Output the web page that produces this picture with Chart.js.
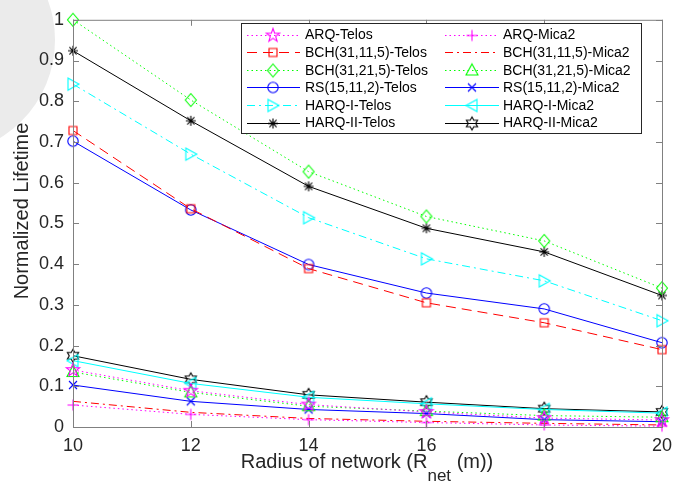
<!DOCTYPE html>
<html>
<head>
<meta charset="utf-8">
<script src="https://cdn.jsdelivr.net/npm/chart.js@4.4.1/dist/chart.umd.min.js"></script>
<style>
  body { margin: 0; background: #fff; }
  canvas { display: block; }
</style>
</head>
<body>
<canvas id="myChart" width="692" height="484"></canvas>
<script>
const radius = [10, 12, 14, 16, 18, 20];

const arqTelos   = [0.140, 0.089, 0.055, 0.037, 0.022, 0.017];
const bch11Telos = [0.728, 0.536, 0.389, 0.305, 0.256, 0.190];
const bch21Telos = [1.000, 0.803, 0.627, 0.517, 0.457, 0.341];
const rsTelos    = [0.702, 0.533, 0.399, 0.329, 0.290, 0.207];
const harq1Telos = [0.842, 0.670, 0.514, 0.413, 0.359, 0.261];
const harq2Telos = [0.924, 0.752, 0.591, 0.488, 0.430, 0.323];

const arqMica2   = [0.054, 0.031, 0.018, 0.011, 0.005, 0.002];
const bch11Mica2 = [0.063, 0.036, 0.021, 0.014, 0.009, 0.005];
const bch21Mica2 = [0.135, 0.085, 0.051, 0.039, 0.028, 0.024];
const rsMica2    = [0.103, 0.063, 0.043, 0.033, 0.018, 0.013];
const harq1Mica2 = [0.163, 0.107, 0.073, 0.057, 0.043, 0.034];
const harq2Mica2 = [0.175, 0.117, 0.079, 0.061, 0.045, 0.037];

const xTicks = [10, 12, 14, 16, 18, 20];
const yTicks = [0, 0.1, 0.2, 0.3, 0.4, 0.5, 0.6, 0.7, 0.8, 0.9, 1];

const DOT = [1.5, 3];
const DASH = [10, 6];
const DASHDOT = [8, 4, 2, 4];

// star outline helper
function starPath(g, n, ro, ri) {
  for (let i = 0; i < n * 2; i++) {
    const r = i % 2 ? ri : ro;
    const a = -Math.PI / 2 + i * Math.PI / n;
    const x = r * Math.cos(a), y = r * Math.sin(a);
    if (i === 0) g.moveTo(x, y); else g.lineTo(x, y);
  }
  g.closePath();
}

// MATLAB-like unfilled markers as small canvases
function marker(type, color) {
  const c = document.createElement('canvas');
  c.width = 18; c.height = 18;
  const g = c.getContext('2d');
  g.strokeStyle = color;
  g.lineWidth = 1.1;
  g.translate(9, 9);
  g.beginPath();
  if (type === 'pent') starPath(g, 5, 7, 2.8);
  else if (type === 'hex') starPath(g, 6, 6.5, 3.7);
  else if (type === 'sq') g.rect(-4, -4, 8, 8);
  else if (type === 'dia') { g.moveTo(0, -6.5); g.lineTo(5.5, 0); g.lineTo(0, 6.5); g.lineTo(-5.5, 0); g.closePath(); }
  else if (type === 'circ') g.arc(0, 0, 5.2, 0, Math.PI * 2);
  else if (type === 'tri') { g.moveTo(0, -6.5); g.lineTo(6, 4.5); g.lineTo(-6, 4.5); g.closePath(); }
  else if (type === 'triR') { g.moveTo(6, 0); g.lineTo(-5, -6); g.lineTo(-5, 6); g.closePath(); }
  else if (type === 'triL') { g.moveTo(-6, 0); g.lineTo(5, -6); g.lineTo(5, 6); g.closePath(); }
  else if (type === 'ast') {
    g.moveTo(-5, 0); g.lineTo(5, 0); g.moveTo(0, -5); g.lineTo(0, 5);
    g.moveTo(-3.6, -3.6); g.lineTo(3.6, 3.6); g.moveTo(-3.6, 3.6); g.lineTo(3.6, -3.6);
  }
  else if (type === 'x') { g.moveTo(-4, -4); g.lineTo(4, 4); g.moveTo(-4, 4); g.lineTo(4, -4); }
  else if (type === 'plus') { g.moveTo(-5.5, 0); g.lineTo(5.5, 0); g.moveTo(0, -5.5); g.lineTo(0, 5.5); }
  g.stroke();
  return c;
}

const series = [
  { label: 'ARQ-Telos',          data: arqTelos,   color: '#ff00ff', dash: DOT,     mk: 'pent', col: 0 },
  { label: 'BCH(31,11,5)-Telos', data: bch11Telos, color: '#ff0000', dash: DASH,    mk: 'sq',   col: 0 },
  { label: 'BCH(31,21,5)-Telos', data: bch21Telos, color: '#00ff00', dash: DOT,     mk: 'dia',  col: 0 },
  { label: 'RS(15,11,2)-Telos',  data: rsTelos,    color: '#0000ff', dash: [],      mk: 'circ', col: 0 },
  { label: 'HARQ-I-Telos',       data: harq1Telos, color: '#00ffff', dash: DASHDOT, mk: 'triR', col: 0 },
  { label: 'HARQ-II-Telos',      data: harq2Telos, color: '#000000', dash: [],      mk: 'ast',  col: 0 },
  { label: 'ARQ-Mica2',          data: arqMica2,   color: '#ff00ff', dash: DOT,     mk: 'plus', col: 1 },
  { label: 'BCH(31,11,5)-Mica2', data: bch11Mica2, color: '#ff0000', dash: DASHDOT, mk: null,   col: 1 },
  { label: 'BCH(31,21,5)-Mica2', data: bch21Mica2, color: '#00ff00', dash: DOT,     mk: 'tri',  col: 1 },
  { label: 'RS(15,11,2)-Mica2',  data: rsMica2,    color: '#0000ff', dash: [],      mk: 'x',    col: 1 },
  { label: 'HARQ-I-Mica2',       data: harq1Mica2, color: '#00ffff', dash: [],      mk: 'triL', col: 1 },
  { label: 'HARQ-II-Mica2',      data: harq2Mica2, color: '#000000', dash: [],      mk: 'hex',  col: 1 }
];
series.forEach(s => { s.img = s.mk ? marker(s.mk, s.color) : null; });

const FONT = '"Liberation Sans", Arial, Helvetica, sans-serif';
const AXIS = '#808080';
const TEXT = '#262626';

// light grey disc behind the top-left corner
const backdrop = {
  id: 'backdrop',
  beforeDraw(chart) {
    const ctx = chart.ctx;
    ctx.save();
    ctx.fillStyle = '#fff';
    ctx.fillRect(0, 0, chart.width, chart.height);
    ctx.fillStyle = '#ebebeb';
    ctx.beginPath();
    ctx.arc(-60, 40, 115, 0, Math.PI * 2);
    ctx.fill();
    ctx.restore();
  }
};

// box, inward ticks, axis titles and the two-column legend
const decor = {
  id: 'decor',
  afterDraw(chart) {
    const ctx = chart.ctx;
    const a = chart.chartArea;
    const xs = chart.scales.x, ys = chart.scales.y;
    ctx.save();
    ctx.strokeStyle = AXIS;
    ctx.lineWidth = 1;
    ctx.setLineDash([]);
    ctx.strokeRect(a.left + 0.5, a.top + 0.5, a.right - a.left, a.bottom - a.top);
    ctx.beginPath();
    xTicks.forEach(v => {
      const px = Math.round(xs.getPixelForValue(v)) + 0.5;
      ctx.moveTo(px, a.bottom); ctx.lineTo(px, a.bottom - 6);
      ctx.moveTo(px, a.top); ctx.lineTo(px, a.top + 6);
    });
    yTicks.forEach(v => {
      const py = Math.round(ys.getPixelForValue(v)) + 0.5;
      ctx.moveTo(a.left, py); ctx.lineTo(a.left + 6, py);
      ctx.moveTo(a.right, py); ctx.lineTo(a.right - 6, py);
    });
    ctx.stroke();

    // y title
    ctx.fillStyle = TEXT;
    ctx.font = '20px ' + FONT;
    ctx.textAlign = 'center';
    ctx.textBaseline = 'middle';
    ctx.save();
    ctx.translate(22, 211);
    ctx.rotate(-Math.PI / 2);
    ctx.fillText('Normalized Lifetime', 0, 0);
    ctx.restore();

    // x title with subscript
    ctx.textAlign = 'left';
    ctx.textBaseline = 'alphabetic';
    const p1 = 'Radius of network (R', sub = 'net', p2 = ' (m))';
    ctx.font = '20px ' + FONT;
    const w1 = ctx.measureText(p1).width, w3 = ctx.measureText(p2).width;
    ctx.font = '17px ' + FONT;
    const w2 = ctx.measureText(sub).width;
    let x = 367 - (w1 + w2 + w3) / 2;
    ctx.font = '20px ' + FONT;
    ctx.fillText(p1, x, 468);
    ctx.font = '17px ' + FONT;
    ctx.fillText(sub, x + w1, 481);
    ctx.font = '20px ' + FONT;
    ctx.fillText(p2, x + w1 + w2, 468);

    // legend
    const L = { x: 241, y: 23, w: 400, h: 110 };
    ctx.fillStyle = '#fff';
    ctx.fillRect(L.x, L.y, L.w, L.h);
    ctx.strokeStyle = TEXT;
    ctx.strokeRect(L.x + 0.5, L.y + 0.5, L.w, L.h);
    const cols = [{ l0: 247, l1: 300, m: 273, t: 305 }, { l0: 445, l1: 499, m: 472, t: 503 }];
    ctx.font = '14px ' + FONT;
    ctx.textBaseline = 'middle';
    const rows = [0, 0];
    series.forEach(s => {
      const c = cols[s.col];
      const y = 34.5 + rows[s.col] * 17.6;
      rows[s.col]++;
      ctx.strokeStyle = s.color;
      ctx.lineWidth = 1;
      ctx.setLineDash(s.dash);
      ctx.beginPath();
      ctx.moveTo(c.l0, Math.round(y) + 0.5);
      ctx.lineTo(c.l1, Math.round(y) + 0.5);
      ctx.stroke();
      ctx.setLineDash([]);
      if (s.img) ctx.drawImage(s.img, c.m - 9, Math.round(y) - 8.5);
      ctx.fillStyle = '#000';
      ctx.fillText(s.label, c.t, y + 1);
    });
    ctx.restore();
  }
};

const ctx = document.getElementById('myChart').getContext('2d');
const myChart = new Chart(ctx, {
  type: 'line',
  data: {
    datasets: series.map(s => ({
      label: s.label,
      data: radius.map((r, i) => ({ x: r, y: s.data[i] })),
      borderColor: s.color,
      borderWidth: 1,
      borderDash: s.dash,
      pointStyle: s.img || 'circle',
      pointRadius: s.img ? 6 : 0,
      pointBorderColor: s.color,
      pointBackgroundColor: 'rgba(0,0,0,0)',
      tension: 0,
      fill: false,
      clip: false
    }))
  },
  options: {
    responsive: false,
    animation: false,
    devicePixelRatio: 1,
    layout: { padding: { top: 11, right: 30, left: 0, bottom: 0 } },
    plugins: { legend: { display: false }, tooltip: { enabled: false } },
    scales: {
      x: {
        type: 'linear', min: 10, max: 20,
        afterBuildTicks: s => { s.ticks = xTicks.map(v => ({ value: v })); },
        afterFit: s => { s.height = 57; },
        grid: { display: false, drawTicks: false },
        border: { display: false },
        ticks: { color: TEXT, font: { family: FONT, size: 18 }, padding: 8, maxRotation: 0 }
      },
      y: {
        min: 0, max: 1,
        afterBuildTicks: s => { s.ticks = yTicks.map(v => ({ value: v })); },
        afterFit: s => { s.width = 73; },
        grid: { display: false, drawTicks: false },
        border: { display: false },
        ticks: { color: TEXT, font: { family: FONT, size: 18 }, padding: 9,
                 callback: v => String(+v.toFixed(1)) }
      }
    }
  },
  plugins: [backdrop, decor]
});
</script>
</body>
</html>
